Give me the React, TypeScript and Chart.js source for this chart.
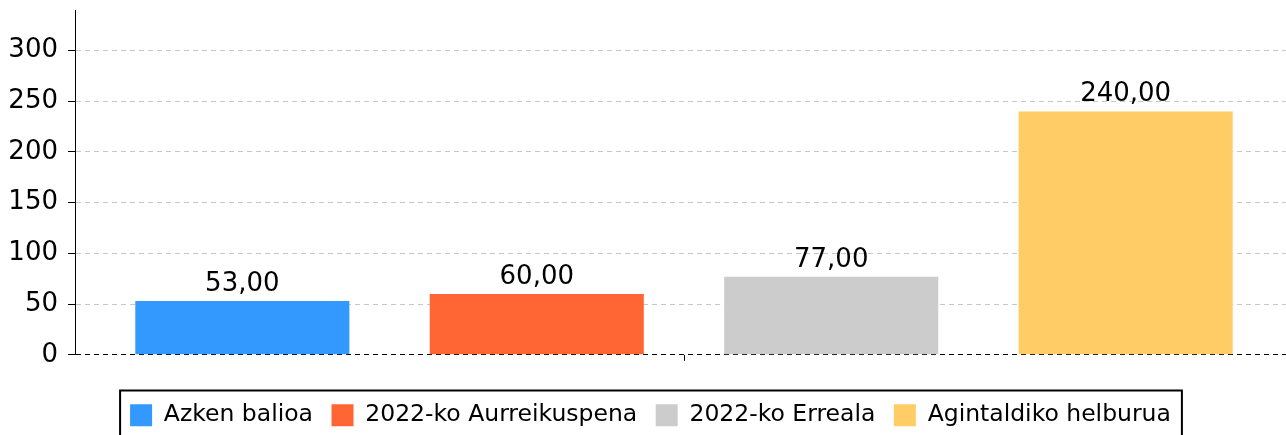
import React, { useEffect, useRef } from "react";
import { Chart, registerables } from "chart.js";

Chart.register(...registerables);

const categories: string[] = [""];
const seriesNames: string[] = [
  "Azken balioa",
  "2022-ko Aurreikuspena",
  "2022-ko Erreala",
  "Agintaldiko helburua",
];
const seriesValues: number[] = [53, 60, 77, 240];
const seriesColors: string[] = ["#3399FF", "#FF6633", "#CCCCCC", "#FFCC66"];
const yTickStep = 50;
const yMax = 340;

const FONT = "'DejaVu Sans', Verdana, sans-serif";

const formatValue = (v: number) => v.toFixed(2).replace(".", ",");

const valueLabels = {
  id: "valueLabels",
  afterDatasetsDraw(chart: any) {
    const ctx = chart.ctx;
    ctx.save();
    ctx.font = `26px ${FONT}`;
    ctx.fillStyle = "#000";
    ctx.textAlign = "center";
    ctx.textBaseline = "alphabetic";
    chart.data.datasets.forEach((ds: any, i: number) => {
      const meta = chart.getDatasetMeta(i);
      meta.data.forEach((bar: any, j: number) => {
        const v = ds.data[j];
        ctx.fillText(formatValue(v), bar.x, bar.y - 10);
      });
    });
    ctx.restore();
  },
};

const legendFrame = {
  id: "legendFrame",
  afterDraw(chart: any) {
    const lg = chart.legend;
    if (!lg || !lg.legendHitBoxes || !lg.legendHitBoxes.length) return;
    const boxes = lg.legendHitBoxes;
    const left = Math.min(...boxes.map((b: any) => b.left)) - 10;
    const right = Math.max(...boxes.map((b: any) => b.left + b.width)) + 11;
    const top = Math.min(...boxes.map((b: any) => b.top)) - 13;
    const bottom = top + 49;
    const ctx = chart.ctx;
    ctx.save();
    ctx.strokeStyle = "#000";
    ctx.lineWidth = 2;
    ctx.strokeRect(left, top, right - left, bottom - top);
    ctx.restore();
  },
};

export default function App() {
  const ref = useRef<HTMLCanvasElement | null>(null);

  useEffect(() => {
    if (!ref.current) return;
    const chart = new Chart(ref.current, {
      type: "bar",
      data: {
        labels: categories,
        datasets: seriesNames.map((name, i) => ({
          label: name,
          data: [seriesValues[i]],
          backgroundColor: seriesColors[i],
          borderWidth: 0,
          barPercentage: 0.727,
          categoryPercentage: 0.967,
        })),
      },
      options: {
        responsive: false,
        animation: false,
        devicePixelRatio: 1,
        layout: { padding: { top: 10, left: 8, right: 0, bottom: 0 } },
        plugins: {
          tooltip: { enabled: false },
          legend: {
            position: "bottom",
            labels: {
              boxWidth: 22,
              boxHeight: 22,
              padding: 18.5,
              color: "#000",
              font: { family: FONT, size: 23.5 },
            },
          },
        },
        scales: {
          x: {
            grid: {
              display: true,
              drawOnChartArea: false,
              drawTicks: true,
              tickLength: 6,
              offset: false,
              tickColor: "#000",
            },
            border: { display: false },
            ticks: { font: { family: FONT, size: 16 }, padding: 2.5, color: "#000" },
          },
          y: {
            min: 0,
            max: yMax,
            afterBuildTicks: (axis: any) => {
              axis.ticks = axis.ticks.filter((t: any) => t.value % yTickStep === 0);
            },
            afterFit: (axis: any) => {
              axis.paddingTop = 0;
              axis.paddingBottom = 0;
              axis.width = 67;
            },
            ticks: {
              stepSize: yTickStep,
              color: "#000",
              padding: 10,
              font: { family: FONT, size: 26 },
            },
            grid: {
              color: (c: any) => (c.tick && c.tick.value === 0 ? "#000" : "#c8c8c8"),
              tickColor: "#000",
              tickLength: 7,
              lineWidth: 1,
            },
            border: { display: true, color: "#000", width: 1, dash: [5, 4] },
          },
        },
      },
      plugins: [valueLabels, legendFrame],
    });
    return () => chart.destroy();
  }, []);

  return (
    <div
      style={{
        position: "fixed",
        top: 0,
        left: 0,
        width: 1286,
        height: 435,
        overflow: "hidden",
        background: "#fff",
      }}
    >
      <canvas ref={ref} width={1293} height={437} style={{ display: "block" }} />
    </div>
  );
}
